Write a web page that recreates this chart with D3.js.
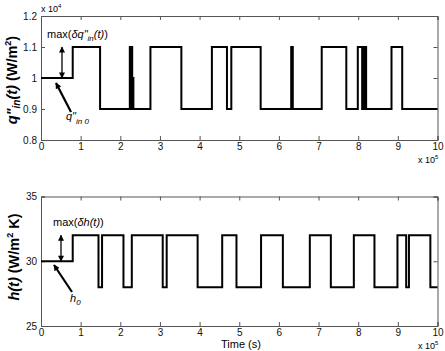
<!DOCTYPE html>
<html>
<head>
<meta charset="utf-8">
<script src="https://cdn.jsdelivr.net/npm/d3@7"></script>
<style>
  body { margin: 0; background: #fff; }
  svg { font-family: "Liberation Sans", Arial, sans-serif; }
  .tick text { font-size: 10px; fill: #111; }
</style>
</head>
<body>
<div id="chart"></div>
<script>
// time in units of 1e5 s, heat flux in W/m^2, h in W/m^2 K
var xTicks = [0, 1, 2, 3, 4, 5, 6, 7, 8, 9, 10];
var qTicks = [0.8, 0.9, 1.0, 1.1, 1.2];   // x 10^4
var hTicks = [25, 30, 35];

var qTimes = [0, 0.80, 1.49, 2.24, 2.27, 2.28, 2.30, 2.32, 2.33, 2.76, 3.54, 4.31, 4.69, 4.80, 5.54,
              6.31, 6.33, 6.34, 6.35, 7.08, 7.70, 7.99, 8.10, 8.11, 8.13, 8.15, 8.20, 8.84, 9.11, 10];
var qValues = [10000, 11000, 9000, 11000, 9000, 11000, 9000, 10000, 9000, 11000, 9000, 11000, 9000, 11000, 9000,
               11000, 9000, 11000, 9000, 11000, 9000, 11000, 9000, 11000, 9000, 11000, 9000, 11000, 9000, 9000];

var hTimes = [0, 0.80, 1.45, 1.54, 2.08, 2.29, 3.07, 3.17, 3.95, 4.57, 4.93, 5.55, 6.10, 6.78, 7.31,
              7.89, 8.41, 8.99, 9.21, 9.28, 9.82, 10];
var hValues = [30, 32, 28, 32, 28, 32, 28, 32, 28, 32, 28, 32, 28, 32, 28,
               32, 28, 32, 28, 32, 28, 28];

var width = 445, height = 351;
var svg = d3.select('#chart').append('svg')
    .attr('width', width)
    .attr('height', height);

function drawPanel(opts) {
    var x = d3.scaleLinear().domain([0, 10]).range([41, 437.5]);
    var y = d3.scaleLinear().domain(opts.yDomain).range([opts.bottom, opts.top]);
    var g = svg.append('g');

    var bottomAxis = d3.axisBottom(x).tickValues(xTicks).tickSize(-4).tickPadding(3).tickFormat(d3.format('d'));
    var leftAxis = d3.axisLeft(y).tickValues(opts.yTicks).tickSize(-4).tickPadding(4).tickFormat(opts.yFormat);

    g.append('g').attr('transform', 'translate(0,' + opts.bottom + ')').call(bottomAxis);
    g.append('g').attr('transform', 'translate(41,0)').call(leftAxis);
    g.append('g').attr('transform', 'translate(0,' + opts.top + ')')
        .call(d3.axisTop(x).tickValues(xTicks).tickSize(-4).tickFormat(''));
    g.append('g').attr('transform', 'translate(437.5,0)')
        .call(d3.axisRight(y).tickValues(opts.yTicks).tickSize(-4).tickFormat(''));
    g.selectAll('.domain').attr('stroke', '#555').attr('stroke-width', 1);
    g.selectAll('.tick line').attr('stroke', '#555');

    var data = opts.times.map(function(t, i) { return [t, opts.values[i]]; });
    var line = d3.line()
        .x(function(d) { return x(d[0]); })
        .y(function(d) { return y(d[1]); })
        .curve(d3.curveStepAfter);
    g.append('path')
        .datum(data)
        .attr('fill', 'none')
        .attr('stroke', '#000')
        .attr('stroke-width', 2)
        .attr('d', line);

    // "x 10^5" exponent under x axis
    var ex = g.append('text').attr('x', 418).attr('y', opts.bottom + 23)
        .attr('font-size', 9).text('x 10');
    ex.append('tspan').attr('font-size', 6).attr('dy', -4).text('5');
    return { x: x, y: y, g: g };
}

// arrow markers
var defs = svg.append('defs');
defs.append('marker').attr('id', 'ah').attr('viewBox', '0 0 10 10')
    .attr('refX', 9).attr('refY', 5).attr('markerWidth', 8).attr('markerHeight', 6)
    .attr('markerUnits', 'userSpaceOnUse')
    .attr('orient', 'auto-start-reverse')
    .append('path').attr('d', 'M0,0 L10,5 L0,10 z').attr('fill', '#000');

function dblArrow(g, xp, y1, y2) {
    g.append('line').attr('x1', xp).attr('x2', xp).attr('y1', y1).attr('y2', y2)
        .attr('stroke', '#000').attr('stroke-width', 1.3)
        .attr('marker-start', 'url(#ah)').attr('marker-end', 'url(#ah)');
}
function pointer(g, x1, y1, x2, y2) {
    g.append('line').attr('x1', x1).attr('y1', y1).attr('x2', x2).attr('y2', y2)
        .attr('stroke', '#000').attr('stroke-width', 2.2)
        .attr('marker-end', 'url(#ah)');
}

// top panel
var topP = drawPanel({
    top: 16, bottom: 140, yDomain: [8000, 12000],
    yTicks: qTicks.map(function(d) { return d * 1e4; }),
    yFormat: function(d) { return d3.format('.1f')(d / 1e4).replace('.0', ''); },
    times: qTimes, values: qValues
});
var ex4 = topP.g.append('text').attr('x', 41).attr('y', 12).attr('font-size', 9).text('x 10');
ex4.append('tspan').attr('font-size', 6).attr('dy', -4).text('4');

var t1 = topP.g.append('text').attr('x', 47).attr('y', 38).attr('font-size', 11);
t1.append('tspan').text('max(');
t1.append('tspan').attr('font-style', 'italic').text('δq"');
t1.append('tspan').attr('font-style', 'italic').attr('font-size', 8).attr('dy', 3).text('in');
t1.append('tspan').attr('font-style', 'italic').attr('dy', -3).text('(t)');
t1.append('tspan').text(')');
dblArrow(topP.g, 62, topP.y(11000), topP.y(10000));
pointer(topP.g, 71, 112, 56, 83);
var t2 = topP.g.append('text').attr('x', 66).attr('y', 120).attr('font-size', 11).attr('font-style', 'italic');
t2.append('tspan').text('q"');
t2.append('tspan').attr('font-size', 8).attr('dy', 4).text('in 0');

var yl1 = topP.g.append('text').attr('transform', 'translate(17,80) rotate(-90)')
    .attr('text-anchor', 'middle').attr('font-size', 14.5).attr('font-weight', 'bold');
yl1.append('tspan').attr('font-style', 'italic').text('q"');
yl1.append('tspan').attr('font-style', 'italic').attr('font-size', 10).attr('dy', 3).text('in');
yl1.append('tspan').attr('font-style', 'italic').attr('dy', -3).text('(t)');
yl1.append('tspan').text(' (W/m');
yl1.append('tspan').attr('font-size', 9).attr('dy', -6).text('2');
yl1.append('tspan').attr('dy', 6).text(')');

// bottom panel
var botP = drawPanel({
    top: 196.5, bottom: 326, yDomain: [25, 35],
    yTicks: hTicks, yFormat: d3.format('d'),
    times: hTimes, values: hValues
});
var t3 = botP.g.append('text').attr('x', 53).attr('y', 226).attr('font-size', 11);
t3.append('tspan').text('max(');
t3.append('tspan').attr('font-style', 'italic').text('δh(t)');
t3.append('tspan').text(')');
dblArrow(botP.g, 61, botP.y(32), botP.y(30));
pointer(botP.g, 72, 292, 54, 265);
var t4 = botP.g.append('text').attr('x', 70).attr('y', 302).attr('font-size', 11).attr('font-style', 'italic');
t4.append('tspan').text('h');
t4.append('tspan').attr('font-size', 8).attr('dy', 3).text('0');

var yl2 = botP.g.append('text').attr('transform', 'translate(19,257) rotate(-90)')
    .attr('text-anchor', 'middle').attr('font-size', 14.5).attr('font-weight', 'bold');
yl2.append('tspan').attr('font-style', 'italic').text('h(t)');
yl2.append('tspan').text(' (W/m');
yl2.append('tspan').attr('font-size', 9).attr('dy', -6).text('2');
yl2.append('tspan').attr('dy', 6).text(' K)');

botP.g.append('text').attr('x', 241).attr('y', 347.5).attr('text-anchor', 'middle')
    .attr('font-size', 11).text('Time (s)');
</script>
</body>
</html>
